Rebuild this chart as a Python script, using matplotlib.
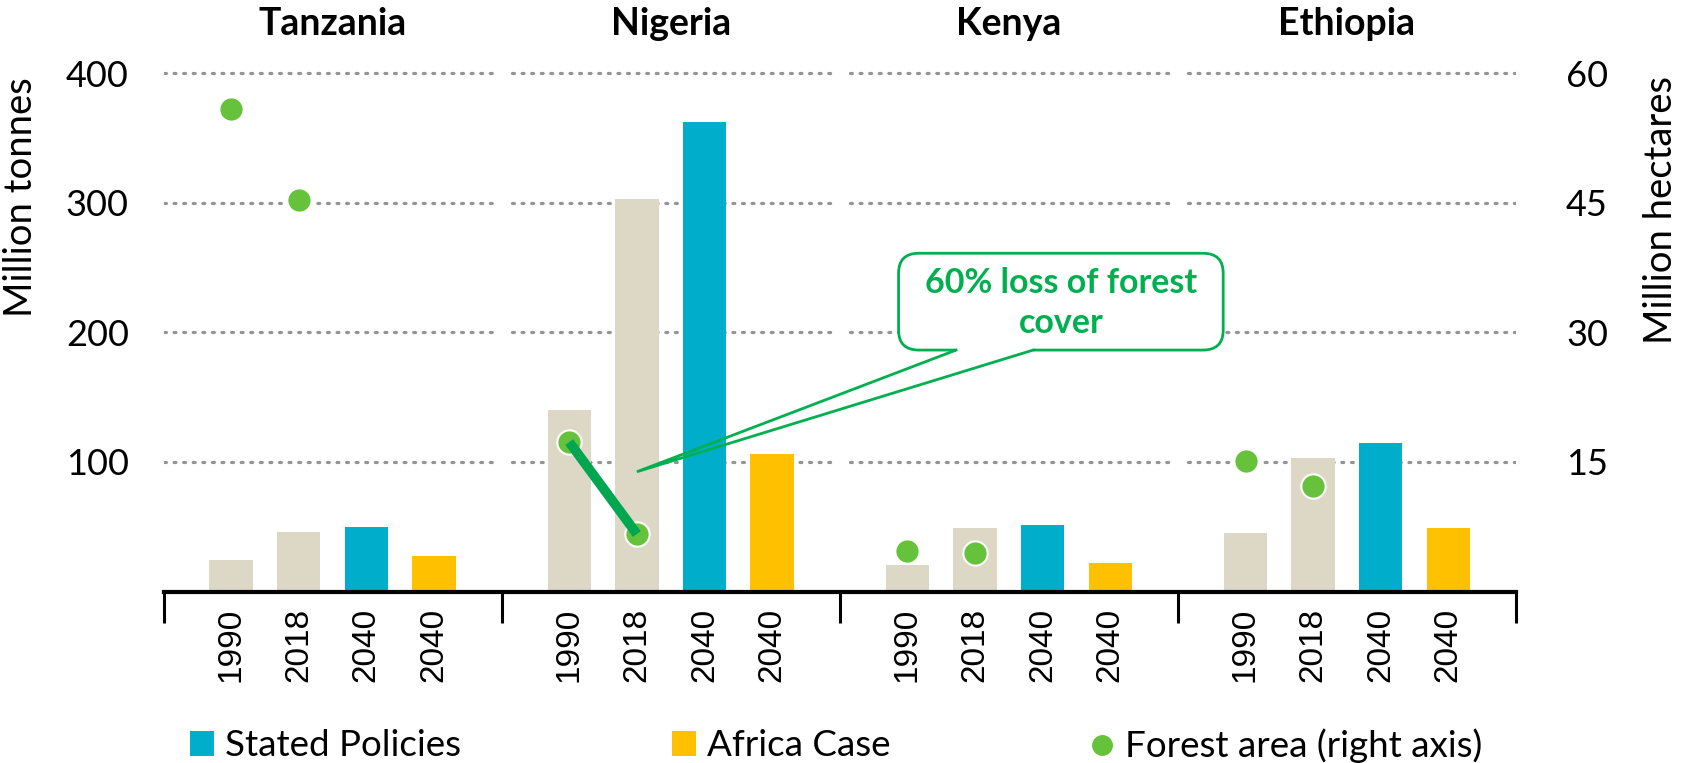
import matplotlib
matplotlib.use("Agg")
import matplotlib.pyplot as plt
from matplotlib.patches import Patch, FancyBboxPatch
from matplotlib.lines import Line2D
import numpy as np

plt.rcParams["font.family"] = ["Lato", "DejaVu Sans"]

countries = ["Tanzania", "Nigeria", "Kenya", "Ethiopia"]
year_labels = ["1990", "2018", "2040", "2040"]

# Million tonnes (left axis)
hist_1990 = [24.3, 140, 20.4, 45.4]
hist_2018 = [46, 303, 48.7, 102.8]
stated_2040 = [50, 362, 51.3, 114.8]
africa_2040 = [27.4, 106, 21.7, 49.2]

# Forest area, million hectares (right axis)
forest_1990 = [55.9, 17.3, 4.7, 15.1]
forest_2018 = [45.3, 6.65, 4.5, 12.2]

left_ticks = [100, 200, 300, 400]
right_ticks = [15, 30, 45, 60]

beige = "#DDD8C5"
blue = "#00AECB"
yellow = "#FFC000"
dot_green = "#66C23A"
line_green = "#00A650"
call_green = "#00B050"

W, H = 1686, 763
fig = plt.figure(figsize=(W / 100, H / 100), dpi=100)
ax = fig.add_axes([163.5 / W, 171.5 / H, (1516 - 163.5) / W, 544.3 / H])
ax.set_xlim(0, 20)
ax.set_ylim(0, 420)

groups = np.arange(len(countries)) * 5
x1990 = groups + 1
x2018 = groups + 2
x_sp = groups + 3
x_ac = groups + 4
bw = 0.64

ax.bar(x1990, hist_1990, width=bw, color=beige, zorder=3)
ax.bar(x2018, hist_2018, width=bw, color=beige, zorder=3)
ax.bar(x_sp, stated_2040, width=bw, color=blue, zorder=3)
ax.bar(x_ac, africa_2040, width=bw, color=yellow, zorder=3)

# dotted gridlines, broken between country groups
for i, g in enumerate(groups):
    start = g + (0 if i == 0 else 0.15)
    end = g + (5 if i == len(groups) - 1 else 4.92)
    for t in left_ticks:
        ax.plot([start, end], [t, t], color="#949494", lw=2.3,
                linestyle=(0, (0.6, 2.4)), dash_capstyle="round", zorder=1)

for s in ["left", "right", "top"]:
    ax.spines[s].set_visible(False)
ax.spines["bottom"].set_linewidth(3)
ax.spines["bottom"].set_zorder(4)

ax.set_yticks(left_ticks)
ax.tick_params(axis="y", length=0, pad=25, labelsize=26)

pos = np.concatenate([np.array([x1990[i], x2018[i], x_sp[i], x_ac[i]]) for i in range(4)])
ax.set_xticks(pos)
ax.set_xticklabels(year_labels * 4, rotation=90, fontfamily="Liberation Sans", fontsize=24)
ax.tick_params(axis="x", which="major", length=0, pad=12)
ax.set_xticks(list(groups) + [20], minor=True)
ax.tick_params(axis="x", which="minor", length=22, width=2.2, direction="out", color="black")

for g, name in zip(groups, countries):
    ax.text(g + 2.5, 1.0224, name, transform=ax.get_xaxis_transform(),
            ha="center", va="baseline", fontsize=27, fontweight="bold")

# right axis with forest area
ax2 = ax.twinx()
ax2.set_ylim(0, 63)
for s in ax2.spines.values():
    s.set_visible(False)
ax2.set_yticks(right_ticks)
ax2.tick_params(axis="y", length=0, pad=36, labelsize=26)

ax2.plot(x1990, forest_1990, "o", color=dot_green, markersize=17.5,
         markeredgecolor="white", markeredgewidth=1.5, zorder=5)
ax2.plot(x2018, forest_2018, "o", color=dot_green, markersize=17.5,
         markeredgecolor="white", markeredgewidth=1.5, zorder=5)
# Nigeria loss line
ax2.plot([x1990[1], x2018[1]], [forest_1990[1], forest_2018[1]],
         color=line_green, lw=7, solid_capstyle="butt", zorder=6)

# callout
box_x0, box_x1 = 10.87, 15.67
box_y0, box_y1 = 186.3, 261
box = FancyBboxPatch((box_x0, box_y0), box_x1 - box_x0, box_y1 - box_y0,
                     boxstyle="round,pad=0,rounding_size=0.3", mutation_aspect=51,
                     fc="white", ec=call_green, lw=2, zorder=5)
ax.add_patch(box)
base_l, base_r = 11.72, 12.86
tip = (7.0, 92.4)
ax.plot([base_l + 0.03, base_r - 0.03], [box_y0, box_y0], color="white", lw=3, zorder=5.5)
ax.plot([base_l, tip[0], base_r], [box_y0, tip[1], box_y0], color=call_green, lw=2,
        solid_joinstyle="miter", zorder=6)
ax.text((box_x0 + box_x1) / 2, 222.6, "60% loss of forest\ncover", ha="center", va="center",
        color=call_green, fontweight="bold", fontsize=24.5, linespacing=1.3, zorder=7)

fig.text(21.5 / W, 1 - 197 / H, "Million tonnes", rotation=90, ha="center", va="center", fontsize=27.5)
fig.text(1661 / W, 1 - 210 / H, "Million hectares", rotation=90, ha="center", va="center", fontsize=27.5)

# legend
leg_y = 1 - 746 / H
items = [
    (Patch(facecolor=blue), "Stated Policies", 190),
    (Patch(facecolor=yellow), "Africa Case", 672),
    (Line2D([], [], marker="o", color=dot_green, linestyle="none", markersize=14), "Forest area (right axis)", 1090),
]
for handle, label, px in items:
    fig.legend(handles=[handle], labels=[label], loc="center left", bbox_to_anchor=(px / W, leg_y),
               frameon=False, fontsize=26.5, handlelength=0.65, handleheight=0.65,
               handletextpad=0.3, borderpad=0, borderaxespad=0)

fig.savefig("out.png", dpi=100)
